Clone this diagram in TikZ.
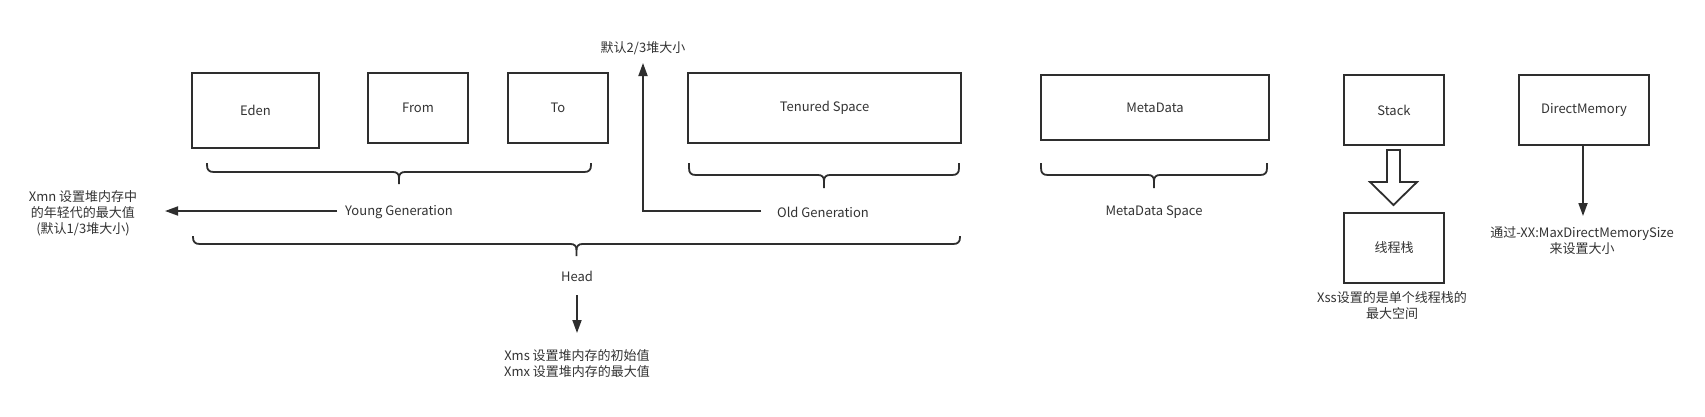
\documentclass[tikz,border=0pt]{standalone}
\usepackage{fontspec}
\setmainfont{Noto Sans CJK SC}
\usetikzlibrary{arrows.meta}
\definecolor{ln}{HTML}{2E2E2E}
\definecolor{tx}{HTML}{333333}
\newcommand\mybrace[5]{% x1 x2 ytop yline ytip
  \pgfmathsetmacro\xmid{(#1+#2)/2}
  \draw[bracestyle] (#1,#3) -- (#1,#4-7) .. controls (#1,#4-2) and (#1+2,#4) .. (#1+7,#4)
    -- (\xmid-6,#4) .. controls (\xmid-2,#4) and (\xmid,#4+2) .. (\xmid,#4+6) -- (\xmid,#5);
  \draw[bracestyle] (#2,#3) -- (#2,#4-7) .. controls (#2,#4-2) and (#2-2,#4) .. (#2-7,#4)
    -- (\xmid+6,#4) .. controls (\xmid+2,#4) and (\xmid,#4+2) .. (\xmid,#4+6);
}
\begin{document}
\begin{tikzpicture}[x=1pt,y=-1pt,
  box/.style={draw=ln, line width=2pt, anchor=north west, text=tx, font=\fontsize{13}{15}\selectfont, inner sep=0pt},
  lbl/.style={text=tx, font=\fontsize{13}{16}\selectfont, align=center},
  bracestyle/.style={draw=ln, line width=1.8pt},
  arr/.style={draw=ln, line width=1.8pt, -{Triangle[length=13pt,width=9pt]}},
]
\useasboundingbox[fill=white] (0,0) rectangle (1705,416);

% boxes
\node[box, minimum width=127pt, minimum height=75pt] (eden) at (191,72) {Eden};
\node[box, minimum width=100pt, minimum height=70pt] (from) at (367,72) {From};
\node[box, minimum width=100pt, minimum height=70pt] (to) at (507,72) {To};
\node[box, minimum width=273pt, minimum height=70pt] (tenured) at (687,72) {Tenured Space};
\node[box, minimum width=228pt, minimum height=65pt] (meta) at (1040,74) {MetaData};
\node[box, minimum width=100pt, minimum height=70pt] (stack) at (1343,74) {Stack};
\node[box, minimum width=130pt, minimum height=70pt] (direct) at (1518,74) {DirectMemory};
\node[box, minimum width=100pt, minimum height=70pt] (thread) at (1343,212) {线程栈};

% braces
\mybrace{207}{591}{163}{172}{184}
\mybrace{689}{959}{163}{175}{188}
\mybrace{1041}{1267}{163}{175}{188}
\mybrace{193}{960}{236}{244}{256}

% labels
\node[lbl] (young) at (399,212) {Young Generation};
\node[lbl] (xmn) at (83,213) {Xmn 设置堆内存中\\的年轻代的最大值\\(默认1/3堆大小)};
\node[lbl] (old) at (823,212) {Old Generation};
\node[lbl] (metasp) at (1154,212) {MetaData Space};
\node[lbl] (def23) at (643,48) {默认2/3堆大小};
\node[lbl] (head) at (577,276) {Head};
\node[lbl] (xms) at (577,364) {Xms 设置堆内存的初始值\\Xmx 设置堆内存的最大值};
\node[lbl] (xss) at (1392,306) {Xss设置的是单个线程栈的\\最大空间};
\node[lbl] (tongguo) at (1582,241) {通过-XX:MaxDirectMemorySize\\来设置大小};

% connector end points
\coordinate (ytip) at (165,211);
\coordinate (ystart) at (337,211);
\coordinate (ostart) at (761,211);
\coordinate (otip) at (643,63);
\coordinate (hstart) at (577,295);
\coordinate (htip) at (577,333);
\coordinate (dtip) at (1583,216);

% connectors
\draw[arr] (ystart) -- (ytip);
\draw[arr] (ostart) -| (otip);
\draw[arr] (hstart) -- (htip);
\draw[arr] (direct.south -| dtip) -- (dtip);

% hollow arrow Stack -> thread
\draw[ln, line width=1.8pt, fill=white, line join=miter]
  (1387,150) -- (1400,150) -- (1400,182) -- (1417,182) -- (1393.5,205)
  -- (1370,182) -- (1387,182) -- cycle;
\end{tikzpicture}
\end{document}
